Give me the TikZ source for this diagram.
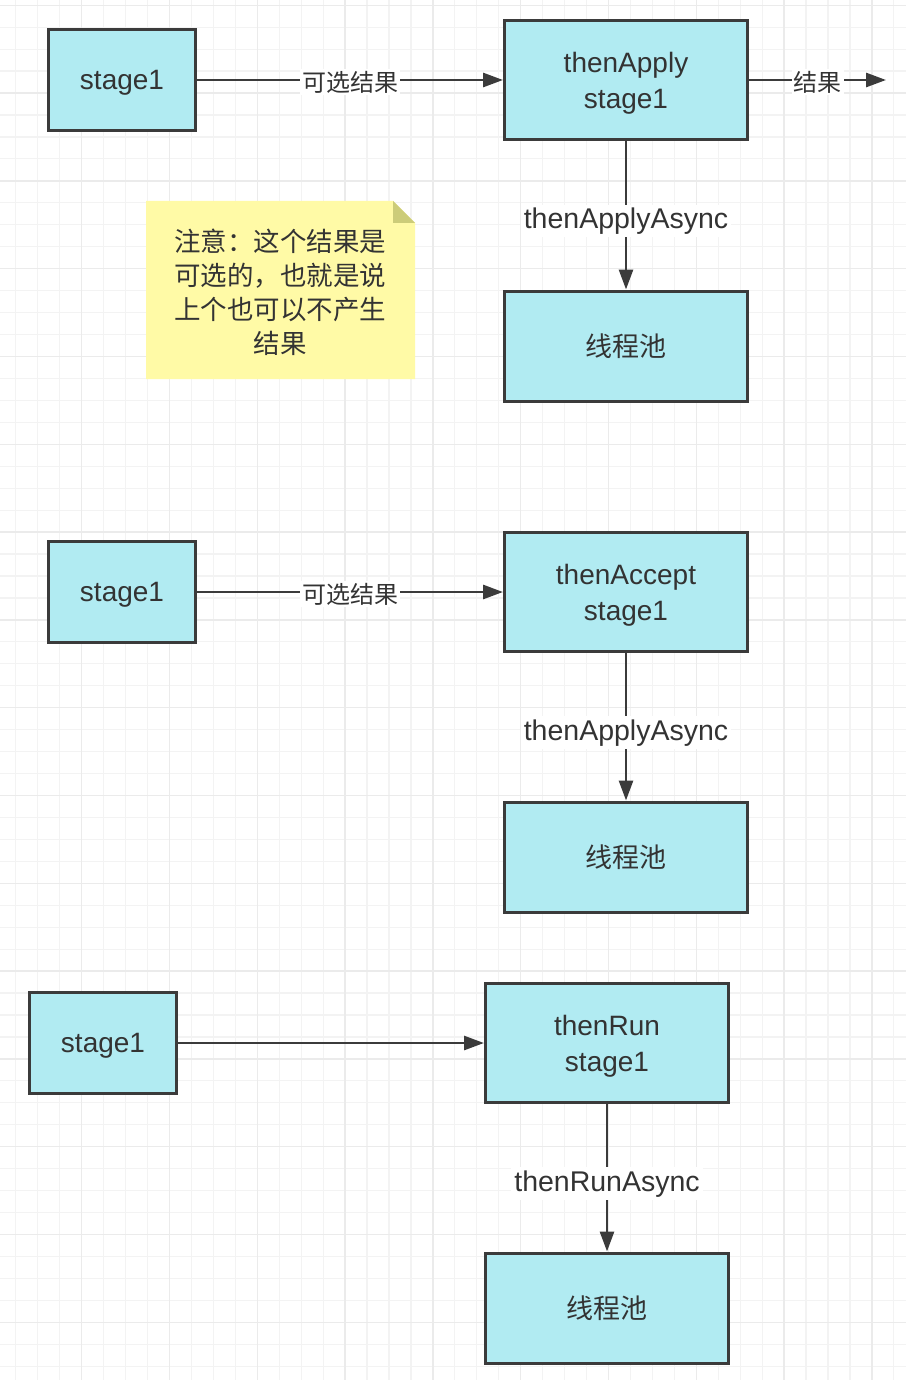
\documentclass[tikz,border=0pt]{standalone}
\usepackage{fontspec}
\setmainfont{Liberation Sans}
\newfontfamily\cjk{Noto Sans CJK SC}
\usetikzlibrary{arrows.meta}
\definecolor{boxfill}{HTML}{B1EBF2}
\definecolor{boxline}{HTML}{3B3B3B}
\definecolor{inktext}{HTML}{333333}
\definecolor{notefill}{HTML}{FFFAA6}
\definecolor{notefold}{HTML}{CCCC79}
\definecolor{gridminor}{HTML}{F3F3F3}
\definecolor{gridmajor}{HTML}{EBEBEB}

\begin{document}
\begin{tikzpicture}[x=1pt, y=-1pt,
    stagebox/.style={shape=rectangle, draw=boxline, fill=boxfill, line width=3pt, text=inktext,
      align=center, inner sep=0pt, font=\fontsize{28}{36}\selectfont},
    srcbox/.style={stagebox, minimum width=147pt, minimum height=101pt, text depth=0pt},
    callbox/.style={stagebox, minimum width=243pt, minimum height=119pt, text depth=0pt},
    poolbox/.style={stagebox, minimum width=243pt, minimum height=110pt, font=\cjk\fontsize{27}{32}\selectfont},
    flow/.style={draw=boxline, line width=2.8pt, -{Triangle[length=20pt,width=14pt]}},
    flowlabel/.style={fill=white, text=inktext, inner sep=3pt, font=\fontsize{28.5}{34}\selectfont},
    cjklabel/.style={fill=white, text=inktext, inner sep=2pt, font=\cjk\fontsize{24}{28}\selectfont}]
     \useasboundingbox (0,0) rectangle (906,1380);
     \fill[white] (0,0) rectangle (906,1380);

     % grid
     \foreach \i in {0,...,42}
       \draw[gridminor, line width=1.2pt] (-6.1+\i*21.95,0) -- (-6.1+\i*21.95,1380);
     \foreach \j in {0,...,63}
       \draw[gridminor, line width=1.2pt] (0,5.25+\j*21.95) -- (906,5.25+\j*21.95);
     \foreach \i in {0,4,...,40}
       \draw[gridmajor, line width=1.4pt] (-6.1+\i*21.95,0) -- (-6.1+\i*21.95,1380);
     \foreach \j in {0,4,...,60}
       \draw[gridmajor, line width=1.4pt] (0,5.25+\j*21.95) -- (906,5.25+\j*21.95);

     % note
     \fill[notefill] (146,201) -- (393,201) -- (415,223) -- (415,379) -- (146,379) -- cycle;
     \fill[notefold] (393,201) -- (415,223) -- (393,223) -- cycle;
     \node[text=inktext, align=center, font=\cjk\fontsize{26.5}{34}\selectfont] (note) at (280,292)
       {注意：这个结果是\\可选的，也就是说\\上个也可以不产生\\结果};

     % thenApply
     \node[srcbox]  (src1)   at (122,80)  {stage1};
     \node[callbox] (apply)  at (626,80)  {thenApply\\stage1};
     \node[poolbox] (pool1)  at (626,346) {线程池};
     \coordinate (out1) at (886,80);

     \path[flow] (src1) -- node[cjklabel, yshift=-2pt] {可选结果} (apply);
     \path[flow] (apply) -- node[cjklabel, yshift=-2pt] {结果} (out1);
     \path[flow] (apply) -- node[flowlabel, pos=0.54] {thenApplyAsync} (pool1);

     % thenAccept
     \node[srcbox]  (src2)   at (122,592) {stage1};
     \node[callbox] (accept) at (626,592) {thenAccept\\stage1};
     \node[poolbox] (pool2)  at (626,857) {线程池};

     \path[flow] (src2) -- node[cjklabel, yshift=-2pt] {可选结果} (accept);
     \path[flow] (accept) -- node[flowlabel, pos=0.54] {thenApplyAsync} (pool2);

     % thenRun
     \node[srcbox]  (src3)   at (103,1043) {stage1};
     \node[callbox] (run)    at (607,1043) {thenRun\\stage1};
     \node[poolbox] (pool3)  at (607,1308) {线程池};

     \path[flow] (src3) -- (run);
     \path[flow] (run) -- node[flowlabel, pos=0.54] {thenRunAsync} (pool3);
\end{tikzpicture}
\end{document}
